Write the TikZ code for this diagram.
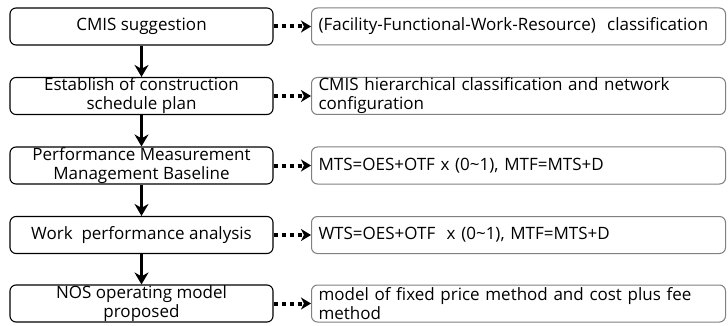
\documentclass[tikz,border=0pt]{standalone}
\usepackage{fontspec}
\setmainfont{Open Sans}
\usetikzlibrary{arrows.meta}

\tikzset{
  stepbox/.style={rectangle,draw,rounded corners=6pt,line width=1.1pt,
    minimum width=263pt,minimum height=37pt,inner sep=0pt,
    align=center,font=\fontsize{17}{19}\selectfont},
  infobox/.style={rectangle,draw=black!50,rounded corners=6pt,line width=1pt,
    minimum width=414pt,minimum height=37pt,inner xsep=7pt,inner ysep=0pt,
    text width=400pt,align=left,font=\fontsize{17}{19}\selectfont},
  flow/.style={line width=3.5pt,-{Stealth[length=12pt,width=14pt]}},
  link/.style={line width=4pt,dash pattern=on 4pt off 4pt,
    -{Stealth[length=10pt,width=12pt,inset=3pt]}}
}

\begin{document}
\begin{tikzpicture}[x=1pt,y=-1pt]
  \useasboundingbox (0,0) rectangle (728,326);

  % left column: main steps
  \node[stepbox] (s1) at (141.5,26.5) {CMIS suggestion};
  \node[stepbox] (s2) at (141.5,96) {Establish of construction\\schedule plan};
  \node[stepbox] (s3) at (141.5,165.5) {Performance Measurement\\Management Baseline};
  \node[stepbox] (s4) at (141.5,235) {Work\ \ performance\ analysis};
  \node[stepbox] (s5) at (141.5,303.5) {NOS operating model\\proposed};

  % right column: details of each step
  \node[infobox] (d1) at (518.5,26.5) {(Facility-Functional-Work-Resource)\ \ classification};
  \node[infobox] (d2) at (518.5,96) {CMIS hierarchical classification and network\\configuration};
  \node[infobox] (d3) at (518.5,165.5) {MTS=OES+OTF x (0\textasciitilde1), MTF=MTS+D};
  \node[infobox] (d4) at (518.5,235) {WTS=OES+OTF\ \ x (0\textasciitilde1),\ MTF=MTS+D};
  \node[infobox] (d5) at (518.5,303.5) {model of fixed price method and cost plus fee\\method};

  \draw[flow] (s1) -- (s2);
  \draw[flow] (s2) -- (s3);
  \draw[flow] (s3) -- (s4);
  \draw[flow] (s4) -- (s5);

  \draw[link] (s1) -- (d1);
  \draw[link] (s2) -- (d2);
  \draw[link] (s3) -- (d3);
  \draw[link] (s4) -- (d4);
  \draw[link] (s5) -- (d5);
\end{tikzpicture}
\end{document}
